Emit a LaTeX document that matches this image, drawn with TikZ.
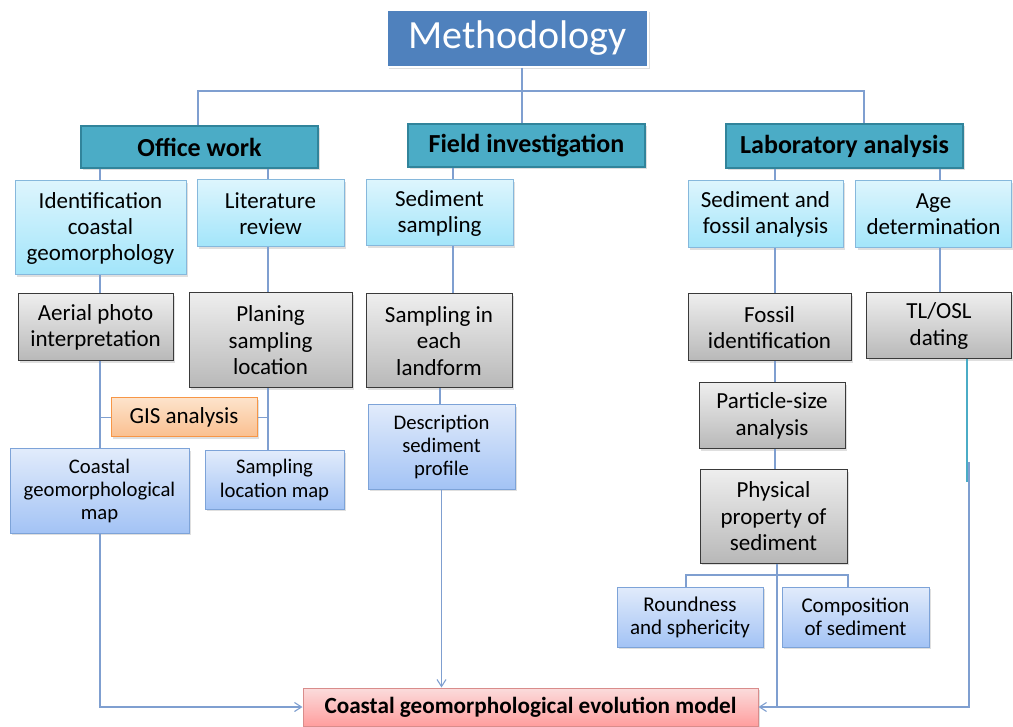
\documentclass[tikz,border=0pt]{standalone}
\usepackage{fontspec}
\setmainfont{Carlito}
\usetikzlibrary{arrows.meta,shadows}
\definecolor{linec}{HTML}{7F9FD0}
\definecolor{methfill}{HTML}{4F81BD}
\definecolor{tealfill}{HTML}{4BACC6}
\definecolor{tealdraw}{HTML}{31849B}
\definecolor{cyantop}{HTML}{DDF5FD}
\definecolor{cyanbot}{HTML}{A2E5FA}
\definecolor{cyandraw}{HTML}{86B8DC}
\definecolor{graytop}{HTML}{EEEEEE}
\definecolor{graybot}{HTML}{B8B8B8}
\definecolor{graydraw}{HTML}{3A3A3A}
\definecolor{bluetop}{HTML}{E1EBFB}
\definecolor{bluebot}{HTML}{A3C3F5}
\definecolor{bluedraw}{HTML}{7DA3D8}
\definecolor{orgtop}{HTML}{FDE3CB}
\definecolor{orgbot}{HTML}{FABF8F}
\definecolor{orgdraw}{HTML}{F79646}
\definecolor{pinktop}{HTML}{FBDCDC}
\definecolor{pinkbot}{HTML}{FF9E9E}
\definecolor{pinkdraw}{HTML}{D98C8B}
\tikzset{
  base/.style={rectangle, inner sep=1pt, align=center, line width=1pt,
    drop shadow={shadow xshift=2pt, shadow yshift=-2pt, opacity=0.25}},
  methbox/.style={base, fill=methfill, draw=white, line width=2pt, text=white,
    font=\fontsize{40}{44}\selectfont},
  catbox/.style={base, fill=tealfill, draw=tealdraw, line width=2pt,
    font=\bfseries\fontsize{26}{28}\selectfont},
  cyanbox/.style={base, top color=cyantop, bottom color=cyanbot, draw=cyandraw,
    font=\fontsize{23}{26}\selectfont},
  graybox/.style={base, top color=graytop, bottom color=graybot, draw=graydraw,
    font=\fontsize{23}{26.5}\selectfont},
  bluebox/.style={base, top color=bluetop, bottom color=bluebot, draw=bluedraw,
    font=\fontsize{20.7}{23.3}\selectfont},
  smallblue/.style={bluebox, font=\fontsize{21}{23}\selectfont},
  orgbox/.style={base, top color=orgtop, bottom color=orgbot, draw=orgdraw,
    font=\fontsize{23}{26}\selectfont},
  finalbox/.style={base, top color=pinktop, bottom color=pinkbot, draw=pinkdraw,
    font=\bfseries\fontsize{23.2}{25}\selectfont},
  conn/.style={draw=linec, line width=1.1pt},
  arr/.style={conn, -{Straight Barb[length=7pt,width=9pt]}},
  sz/.style 2 args={minimum width=#1pt, minimum height=#2pt}
}
\begin{document}
\begin{tikzpicture}[x=1pt,y=-1pt]
\useasboundingbox (0,0) rectangle (1013,727);
% nodes
\node[methbox, sz={261}{57}] (meth) at (517.5,38.5) {Methodology};
\node[catbox, sz={237}{42}] (office) at (199.5,147) {Office work};
\node[catbox, sz={237}{43}] (field) at (526.5,145.5) {Field investigation};
\node[catbox, sz={237}{44}] (lab) at (844.5,146) {Laboratory analysis};
\node[cyanbox, sz={171}{94}] (ident) at (100.5,228) {Identification\\coastal\\geomorphology};
\node[cyanbox, sz={147}{67}] (lit) at (270.5,213.5) {Literature\\review};
\node[cyanbox, sz={147}{66}] (sedsamp) at (439.5,213) {Sediment\\sampling};
\node[cyanbox, sz={155}{67}] (sedfos) at (765.5,214.5) {Sediment and\\fossil analysis};
\node[cyanbox, sz={156}{67}] (age) at (933.5,214.5) {Age\\determination};
\node[graybox, sz={155}{67}] (aerial) at (95.5,327.5) {Aerial photo\\interpretation};
\node[graybox, sz={163}{95}] (plan) at (270.5,340.5) {Planing\\sampling\\location};
\node[graybox, sz={146}{94}] (landform) at (439,341) {Sampling in\\each\\landform};
\node[graybox, sz={163}{67}] (fossil) at (769.5,327.5) {Fossil\\identification};
\node[graybox, sz={145}{66}] (tlosl) at (939,326) {TL/OSL\\dating};
\node[orgbox, sz={146}{39}] (gis) at (184,417.5) {GIS analysis};
\node[bluebox, sz={179}{84}] (cmap) at (99.5,491) {Coastal\\geomorphological\\map};
\node[bluebox, sz={139}{58}] (slmap) at (274.5,480) {Sampling\\location map};
\node[bluebox, sz={147}{84}] (desc) at (441.5,447) {Description\\sediment\\profile};
\node[graybox, sz={146}{66}] (part) at (772,416) {Particle-size\\analysis};
\node[graybox, sz={147}{93}] (phys) at (773.5,516.5) {Physical\\property of\\sediment};
\node[smallblue, sz={146}{60}] (round) at (690,617) {Roundness\\and sphericity};
\node[smallblue, sz={147}{60}] (comp) at (855.5,617) {Composition\\of sediment};
\node[finalbox, sz={455}{38}] (final) at (530.5,707) {Coastal geomorphological evolution model};
% column coordinates
\coordinate (busL) at (198,91);
\coordinate (busR) at (864,91);
\coordinate (busM) at (522,91);
\coordinate (cA) at (100,0);
\coordinate (cB) at (268,0);
\coordinate (cC) at (453,0);
\coordinate (cD) at (440,0);
\coordinate (cE) at (775,0);
\coordinate (cF) at (940,0);
\coordinate (cH) at (777,0);
\coordinate (cG1) at (967,482);
\coordinate (cG2) at (969,462);
\coordinate (brL) at (686,575);
\coordinate (brR) at (848,575);
% top tree
\path[conn] (busL |- office.north) -- (busL) -- (busR) -- (busR |- lab.north);
\path[conn] (busM |- meth.south) -- (busM |- field.north);
% category to children
\path[conn] (cA |- office.south) -- (cA |- ident.north);
\path[conn] (cB |- office.south) -- (cB |- lit.north);
\path[conn] (cC |- field.south) -- (cC |- sedsamp.north);
\path[conn] (cE |- lab.south) -- (cE |- sedfos.north);
\path[conn] (cF |- lab.south) -- (cF |- age.north);
% office column
\path[conn] (cA |- ident.south) -- (cA |- aerial.north);
\path[conn] (cA |- aerial.south) -- (cA |- cmap.north);
\path[conn] (cB |- lit.south) -- (cB |- plan.north);
\path[conn] (cB |- plan.south) -- (cB |- slmap.north);
\path[conn] (gis.west) -- (cA |- gis.west);
\path[conn] (gis.east) -- (cB |- gis.east);
% field column
\path[conn] (cC |- sedsamp.south) -- (cC |- landform.north);
\path[conn] (cD |- landform.south) -- (cD |- desc.north);
% lab column
\path[conn] (cE |- sedfos.south) -- (cE |- fossil.north);
\path[conn] (cE |- fossil.south) -- (cE |- part.north);
\path[conn] (cE |- part.south) -- (cE |- phys.north);
\path[conn] (cF |- age.south) -- (cF |- tlosl.north);
\path[conn] (brL |- round.north) -- (brL) -- (brR) -- (brR |- comp.north);
% to final model
\path[arr] (cA |- cmap.south) -- (cA |- final.west) -- (final.west);
\path[arr] (desc.south) -- (desc.south |- final.north);
\path[conn, draw=tealfill] (cG1 |- tlosl.south) -- (cG1);
\path[arr] (cG2) -- (cG2 |- final.east) -- (final.east);
\path[conn] (cH |- phys.south) -- (cH |- final.east);
\end{tikzpicture}
\end{document}
